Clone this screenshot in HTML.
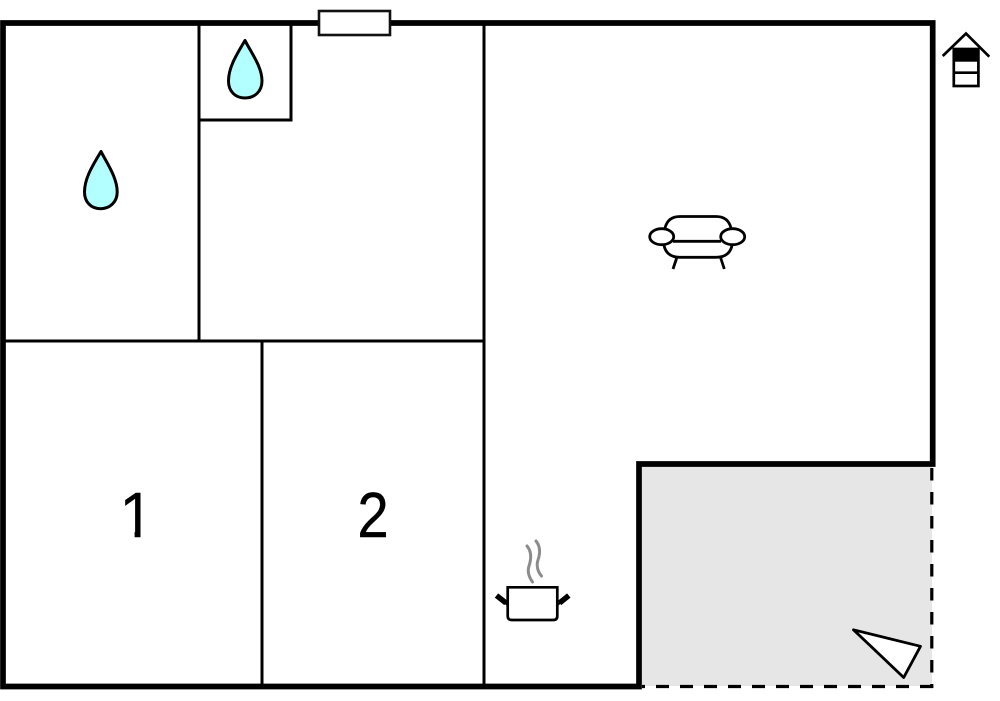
<!DOCTYPE html>
<html>
<head>
<meta charset="utf-8">
<style>
html,body{margin:0;padding:0;background:#fff;width:1000px;height:701px;overflow:hidden}
svg{display:block}
text{font-family:"Liberation Sans",sans-serif;fill:#000}
</style>
</head>
<body>
<svg width="1000" height="701" viewBox="0 0 1000 701" xmlns="http://www.w3.org/2000/svg">
<defs>
<clipPath id="one"><rect x="118" y="485" width="22.5" height="47"/><rect x="134.6" y="530" width="5.9" height="8"/></clipPath>
</defs>
<rect x="640" y="466" width="292" height="220" fill="#e6e6e6"/>
<g fill="none" stroke="#000" stroke-width="3">
<path d="M199 23V341M199 120H291V23M3 341H484M262 341V686M484 23V686"/>
</g>
<path d="M933 686.5H642" fill="none" stroke="#000" stroke-width="3.2" stroke-dasharray="13 11"/>
<path d="M931.8 468V688" fill="none" stroke="#000" stroke-width="3.2" stroke-dasharray="12.5 11.5"/>
<path d="M639 686.5H3V23H932.7V464H639Z" fill="none" stroke="#000" stroke-width="5.7"/>
<rect x="319" y="11" width="71" height="24" fill="#fff" stroke="#111" stroke-width="2.6"/>
<g fill="#b3ffff" stroke="#000" stroke-width="3" stroke-linejoin="round">
<path d="M101 151.5C93 165 84.5 178 84.5 192C84.5 202 91 208.7 100.5 208.7C110 208.7 117.2 202 117.2 192C117.2 178 108 165 101 151.5Z"/>
<path d="M245 40.5C237 54 228.5 67 228.5 81C228.5 91 235 98 245 98C255 98 262 91 262 81C262 67 252 54 245 40.5Z"/>
</g>
<g fill="none" stroke="#000" stroke-width="2.8">
<path d="M665 228C667 220 672 216.5 680 216.5H716C724 216.5 729 220 731 228"/>
<path d="M664 245C665 252 670 257.3 680 257.3H716C726 257.3 731 252 732 245"/>
<path d="M673 241.3H721"/>
<path d="M676.7 258L673 269M720.7 258L724.3 269"/>
<ellipse cx="661.7" cy="236.7" rx="12" ry="8" fill="#fff"/>
<ellipse cx="732.7" cy="236.7" rx="12" ry="8" fill="#fff"/>
</g>
<g fill="none" stroke="#8c8c8c" stroke-width="3" stroke-linecap="round">
<path d="M527 546C532 552 531 560 529 566C527 572 529 577 532.5 582"/>
<path d="M536 541C541 547 540 554 538 560C536 566 538 572 541.5 576"/>
</g>
<path d="M507.7 605L503 601M557.3 605L562 601" fill="none" stroke="#000" stroke-width="2.2"/>
<path d="M496.5 595.5L506 603M568.8 595.5L559.5 603" fill="none" stroke="#000" stroke-width="5.5"/>
<path d="M507.7 587.3H557.3V616Q557.3 620 553.3 620H511.7Q507.7 620 507.7 616Z" fill="#fff" stroke="#000" stroke-width="2.7"/>
<path d="M853.5 629.8L920.5 646.3L903.7 677.5Z" fill="#fff" stroke="#000" stroke-width="2.8" stroke-linejoin="round"/>
<path d="M942.7 56L966 33.5L989.3 56.7" fill="none" stroke="#000" stroke-width="2.7"/>
<rect x="953.8" y="49" width="24.6" height="37" fill="#fff" stroke="#000" stroke-width="2.7"/>
<rect x="953.8" y="49" width="24.6" height="12.7" fill="#000"/>
<path d="M953.8 72.7H978.4" stroke="#000" stroke-width="2.7"/>
<g clip-path="url(#one)"><text x="137" y="537" font-size="64" text-anchor="middle" stroke="#000" stroke-width="0.4">1</text></g>
<text transform="translate(373 537) scale(0.88 1)" font-size="64" text-anchor="middle" stroke="#000" stroke-width="0.4">2</text>
</svg>
</body>
</html>
